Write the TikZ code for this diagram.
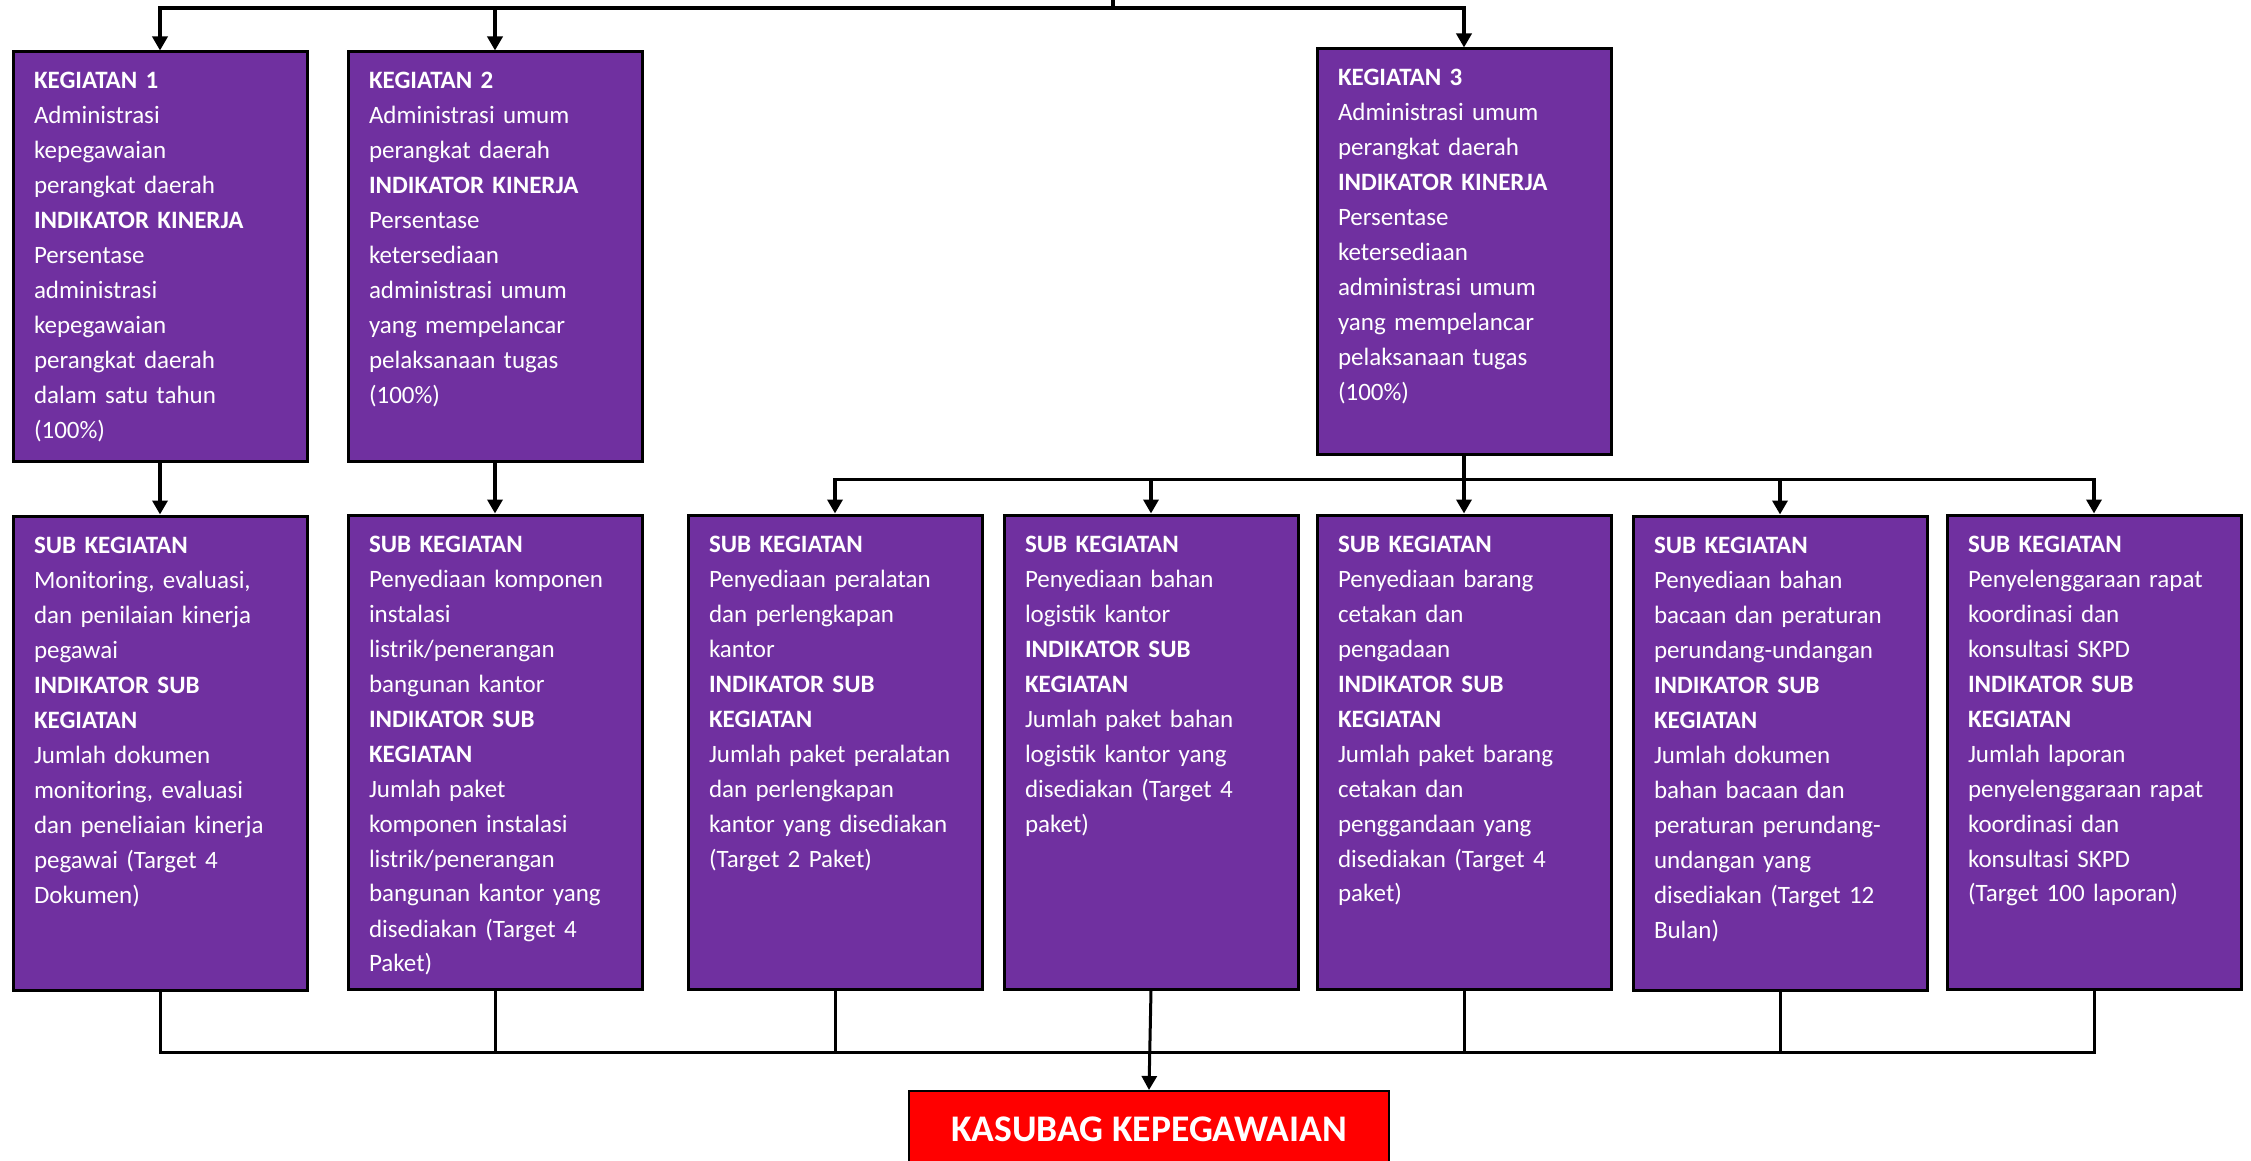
\documentclass[tikz,border=0pt]{standalone}
\usepackage{fontspec}
\setmainfont{Carlito}
\usetikzlibrary{arrows.meta}
\definecolor{ungu}{HTML}{7030A0}
\definecolor{merah}{HTML}{FF0000}

\begin{document}
\begin{tikzpicture}[x=0.5pt, y=-0.5pt]

  \tikzstyle{kotak} = [draw=black, line width=1.5pt, fill=ungu, text=white, anchor=north west,
    align=left, text width=126pt, inner xsep=10.5pt, inner ysep=6.25pt, text height=12.25pt,
    font=\fontsize{12.5}{17.5}\selectfont]
  \tikzstyle{kegiatan} = [kotak, text depth=179.75pt]
  \tikzstyle{subkeg} = [kotak, text depth=212.25pt]
  \tikzstyle{kotakmerah} = [draw=black, line width=1pt, fill=merah, text=white, anchor=north,
    minimum width=240pt, minimum height=38pt, font=\bfseries\fontsize{18.8}{22}\selectfont]
  \tikzstyle{panah} = [-{Triangle[width=7.5pt,length=7pt]}, line width=1.8pt]
  \tikzstyle{garis} = [line width=1.5pt]

  \useasboundingbox (0,0) rectangle (2251,1161);

  % kegiatan
  \node[kegiatan] (K1) at (11.5,50.5) {\textbf{KEGIATAN 1}\\ Administrasi\\ kepegawaian\\ perangkat daerah\\
    \textbf{INDIKATOR KINERJA}\\ Persentase\\ administrasi\\ kepegawaian\\ perangkat daerah\\
    dalam satu tahun\\ (100\%)};
  \node[kegiatan] (K2) at (346.5,50.5) {\textbf{KEGIATAN 2}\\ Administrasi umum\\ perangkat daerah\\
    \textbf{INDIKATOR KINERJA}\\ Persentase\\ ketersediaan\\ administrasi umum\\ yang mempelancar\\
    pelaksanaan tugas\\ (100\%)};
  \node[kegiatan, text depth=177.75pt] (K3) at (1315.5,47.5) {\textbf{KEGIATAN 3}\\ Administrasi umum\\ perangkat daerah\\
    \textbf{INDIKATOR KINERJA}\\ Persentase\\ ketersediaan\\ administrasi umum\\ yang mempelancar\\
    pelaksanaan tugas\\ (100\%)};

  % sub kegiatan
  \node[subkeg] (S1) at (11.5,514.5) {\textbf{SUB KEGIATAN}\\ Monitoring, evaluasi,\\ dan penilaian kinerja\\ pegawai\\
    \textbf{INDIKATOR SUB}\\ \textbf{KEGIATAN}\\ Jumlah dokumen\\ monitoring, evaluasi\\
    dan peneliaian kinerja\\ pegawai (Target 4\\ Dokumen)};
  \node[subkeg] (S2) at (346.5,513.5) {\textbf{SUB KEGIATAN}\\ Penyediaan komponen\\ instalasi\\ listrik/penerangan\\
    bangunan kantor\\ \textbf{INDIKATOR SUB}\\ \textbf{KEGIATAN}\\ Jumlah paket\\ komponen instalasi\\
    listrik/penerangan\\ bangunan kantor yang\\ disediakan (Target 4\\ Paket)};
  \node[subkeg] (S3) at (686.5,513.5) {\textbf{SUB KEGIATAN}\\ Penyediaan peralatan\\ dan perlengkapan\\ kantor\\
    \textbf{INDIKATOR SUB}\\ \textbf{KEGIATAN}\\ Jumlah paket peralatan\\ dan perlengkapan\\
    kantor yang disediakan\\ (Target 2 Paket)};
  \node[subkeg] (S4) at (1002.5,513.5) {\textbf{SUB KEGIATAN}\\ Penyediaan bahan\\ logistik kantor\\
    \textbf{INDIKATOR SUB}\\ \textbf{KEGIATAN}\\ Jumlah paket bahan\\ logistik kantor yang\\
    disediakan (Target 4\\ paket)};
  \node[subkeg] (S5) at (1315.5,513.5) {\textbf{SUB KEGIATAN}\\ Penyediaan barang\\ cetakan dan\\ pengadaan\\
    \textbf{INDIKATOR SUB}\\ \textbf{KEGIATAN}\\ Jumlah paket barang\\ cetakan dan\\ penggandaan yang\\
    disediakan (Target 4\\ paket)};
  \node[subkeg] (S6) at (1631.5,514.5) {\textbf{SUB KEGIATAN}\\ Penyediaan bahan\\ bacaan dan peraturan\\
    perundang-undangan\\ \textbf{INDIKATOR SUB}\\ \textbf{KEGIATAN}\\ Jumlah dokumen\\ bahan bacaan dan\\
    peraturan perundang-\\ undangan yang\\ disediakan (Target 12\\ Bulan)};
  \node[subkeg] (S7) at (1945.5,513.5) {\textbf{SUB KEGIATAN}\\ Penyelenggaraan rapat\\ koordinasi dan\\
    konsultasi SKPD\\ \textbf{INDIKATOR SUB}\\ \textbf{KEGIATAN}\\ Jumlah laporan\\
    penyelenggaraan rapat\\ koordinasi dan\\ konsultasi SKPD\\ (Target 100 laporan)};

  \node[kotakmerah] (kasubag) at (1149,1090) {KASUBAG KEPEGAWAIAN};

  % garis atas
  \coordinate (atas) at (1113,-10);
  \coordinate (cabang) at (1113,8);
  \draw[line width=1.8pt] (atas) -- (cabang);
  \draw[panah] (cabang) -| (K1.north);
  \draw[panah] (cabang) -| (K2.north);
  \draw[panah] (cabang) -| (K3.north);

  \draw[panah] (K1) -- (S1);
  \draw[panah] (K2) -- (S2);
  \draw[line width=1.8pt] (K3.south) -- ++(0,24) coordinate (cabang2);
  \foreach \s in {S3,S4,S5,S6,S7}
    \draw[panah] (cabang2) -| (\s.north);

  % garis bawah
  \coordinate (gabung) at (1149,1052);
  \foreach \s in {S1,S2,S3,S5,S6,S7}
    \draw[garis] (\s.south) |- (gabung);
  \draw[panah, line width=1.5pt] (S4.south) -- (kasubag.north);

\end{tikzpicture}
\end{document}
